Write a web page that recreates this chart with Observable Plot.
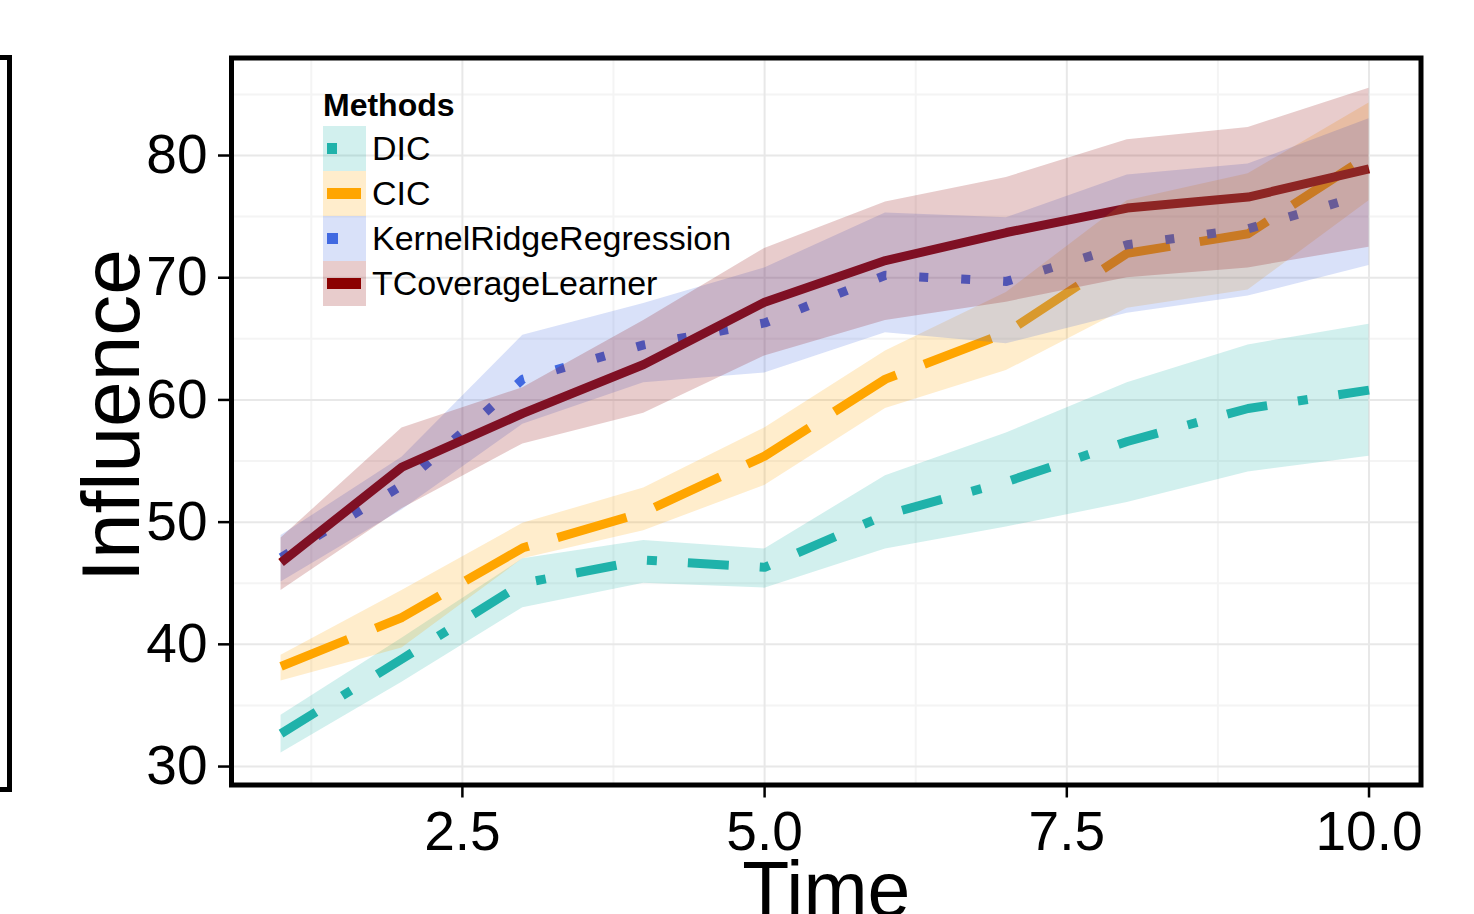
<!DOCTYPE html>
<html>
<head>
<meta charset="utf-8">
<script src="https://cdn.jsdelivr.net/npm/d3@7"></script>
<script src="https://cdn.jsdelivr.net/npm/@observablehq/plot@0.6"></script>
<style>
  body { margin: 0; background: #fff; font-family: "Liberation Sans", Arial, sans-serif; }
  #wrap { position: relative; width: 1474px; height: 914px; overflow: hidden; }
  #prev-panel { position: absolute; left: -100px; top: 55px; width: 102px; height: 727px; border: 5px solid #000; }
  #legend { position: absolute; left: 323px; top: 86px; }
  #legend .title { font-weight: bold; font-size: 32px; line-height: 38px; height: 40px; }
  #legend .row { display: flex; align-items: center; height: 45px; }
  #legend .key { position: relative; width: 43px; height: 45px; }
  #legend .key span { position: absolute; left: 4px; top: 17px; height: 11px; }
  #legend .lab { font-size: 34px; margin-left: 6px; line-height: 45px; }
</style>
</head>
<body>
<div id="wrap">
  <div id="prev-panel"></div>
</div>
<script>
// Time steps and methods
const time = [1, 2, 3, 4, 5, 6, 7, 8, 9, 10];
const methods = ["DIC", "CIC", "KernelRidgeRegression", "TCoverageLearner"];
const colors = ["#20B2AA", "#FFA500", "#4169E1", "#8B0000"];

// Mean influence per method
const dicMean = [32.7, 38.8, 45.0, 46.9, 46.3, 50.6, 53.3, 56.6, 59.3, 60.8];
const cicMean = [38.2, 42.2, 47.9, 50.8, 55.4, 61.7, 65.5, 72.0, 73.6, 80.0];
const krrMean = [47.1, 53.0, 61.7, 64.5, 66.3, 70.2, 69.7, 72.7, 74.0, 76.9];
const tclMean = [46.7, 54.5, 58.9, 62.9, 68.0, 71.4, 73.7, 75.7, 76.6, 78.9];

// Lower / upper band bounds per method
const dicLo = [31.1, 36.9, 43.0, 45.0, 44.6, 47.8, 49.6, 51.6, 54.1, 55.4];
const dicHi = [34.2, 40.5, 47.0, 48.5, 47.8, 53.8, 57.3, 61.4, 64.5, 66.2];
const cicLo = [37.0, 39.7, 47.0, 49.3, 53.0, 59.3, 62.4, 67.5, 69.0, 76.3];
const cicHi = [39.1, 44.4, 49.9, 52.8, 57.7, 64.0, 68.8, 76.3, 78.5, 84.3];
const krrLo = [45.1, 51.0, 58.0, 61.4, 62.2, 65.5, 64.6, 67.1, 68.5, 71.0];
const krrHi = [48.9, 55.3, 65.3, 67.9, 70.8, 75.3, 74.9, 78.4, 79.3, 83.0];
const tclLo = [44.4, 51.1, 56.4, 58.9, 63.6, 66.5, 68.0, 70.0, 70.8, 72.5];
const tclHi = [48.7, 57.7, 61.0, 66.5, 72.4, 76.2, 78.2, 81.3, 82.3, 85.5];

// Axis ticks
const xTicks = [2.5, 5.0, 7.5, 10.0];
const xMinor = [1.25, 3.75, 6.25, 8.75];
const yTicks = [30, 40, 50, 60, 70, 80];
const yMinor = [35, 45, 55, 65, 75, 85];

const means = [dicMean, cicMean, krrMean, tclMean];
const los = [dicLo, cicLo, krrLo, tclLo];
const his = [dicHi, cicHi, krrHi, tclHi];
const dashes = ["41 31 10 31", "72 30", "9 33", null];

const rows = methods.flatMap((m, i) =>
  time.map((t, j) => ({ method: m, time: t, mean: means[i][j], lo: los[i][j], hi: his[i][j] }))
);
const byMethod = m => rows.filter(d => d.method === m);

const lineMarks = methods.map((m, i) =>
  Plot.line(byMethod(m), {
    x: "time", y: "mean", stroke: "method", strokeWidth: 9,
    strokeDasharray: dashes[i] ?? undefined,
    strokeLinecap: "butt", strokeLinejoin: "round"
  })
);
const bandMarks = methods.map(m =>
  Plot.areaY(byMethod(m), { x: "time", y1: "lo", y2: "hi", fill: "method", fillOpacity: 0.2 })
);

const chart = Plot.plot({
  width: 1474,
  height: 914,
  marginLeft: 231,
  marginRight: 53.5,
  marginTop: 57.5,
  marginBottom: 129.5,
  style: { fontFamily: "Liberation Sans, Arial, sans-serif", background: "transparent", overflow: "visible" },
  x: { domain: [0.59, 10.43] },
  y: { domain: [28.49, 87.98] },
  color: { domain: methods, range: colors },
  marks: [
    Plot.ruleY(yMinor, { stroke: "#f4f4f4", strokeWidth: 2 }),
    Plot.ruleX(xMinor, { stroke: "#f4f4f4", strokeWidth: 2 }),
    Plot.ruleY(yTicks, { stroke: "#e8e8e8", strokeWidth: 2 }),
    Plot.ruleX(xTicks, { stroke: "#e8e8e8", strokeWidth: 2 }),
    ...lineMarks,
    ...bandMarks,
    Plot.frame({ stroke: "#000", strokeWidth: 5 }),
    Plot.axisY(yTicks, { tickSize: 13, tickPadding: 11, fontSize: 55, strokeWidth: 2.5, label: null, tickFormat: d => String(d) }),
    Plot.axisX(xTicks, { tickSize: 13, tickPadding: 13, fontSize: 55, strokeWidth: 2.5, label: null, tickFormat: d => d.toFixed(1) }),
    Plot.text(["Influence"], { frameAnchor: "left", text: d => d, textAnchor: "middle", rotate: -90, dx: -119, dy: -6, fontSize: 82, fill: "#000" }),
    Plot.text(["Time"], { frameAnchor: "bottom", text: d => d, dy: 131, fontSize: 77, fill: "#000" })
  ]
});

const wrap = document.getElementById("wrap");
chart.style.position = "absolute";
chart.style.left = "0";
chart.style.top = "0";
wrap.appendChild(chart);

// Legend: band swatch with the line style drawn on it
const legend = document.createElement("div");
legend.id = "legend";
const title = document.createElement("div");
title.className = "title";
title.textContent = "Methods";
legend.appendChild(title);
const keyWidths = [10, 34, 11, 34];
methods.forEach((m, i) => {
  const row = document.createElement("div");
  row.className = "row";
  const key = document.createElement("div");
  key.className = "key";
  const c = d3.color(colors[i]);
  key.style.background = `rgba(${c.r},${c.g},${c.b},0.2)`;
  const s = document.createElement("span");
  s.style.width = keyWidths[i] + "px";
  s.style.background = colors[i];
  key.appendChild(s);
  const lab = document.createElement("div");
  lab.className = "lab";
  lab.textContent = m;
  row.appendChild(key);
  row.appendChild(lab);
  legend.appendChild(row);
});
wrap.appendChild(legend);
</script>
</body>
</html>
